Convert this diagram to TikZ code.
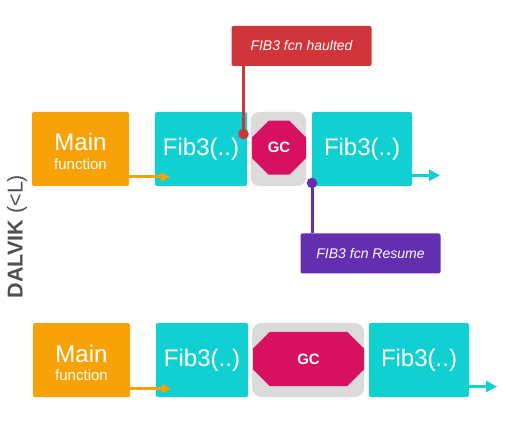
\documentclass[tikz,border=0pt]{standalone}
\usepackage{fontspec}
\setmainfont{Liberation Sans}
\usetikzlibrary{shapes.misc,arrows.meta}
\definecolor{cOrange}{HTML}{F7A307}
\definecolor{cTeal}{HTML}{10D0D2}
\definecolor{cGray}{HTML}{DBDBDB}
\definecolor{cPink}{HTML}{D81060}
\definecolor{cRed}{HTML}{CF353B}
\definecolor{cPurple}{HTML}{632EB0}
\definecolor{cText}{HTML}{505050}
\tikzset{
  x=1pt,y=-1pt,
  boxbase/.style={rectangle,rounded corners=2pt,inner sep=0pt,text=white,align=center},
  mainbox/.style={boxbase,fill=cOrange,minimum width=97pt,minimum height=74pt},
  fibshort/.style={boxbase,fill=cTeal,minimum width=92pt,minimum height=74pt},
  fiblong/.style={boxbase,fill=cTeal,minimum width=100pt,minimum height=74pt},
  fibtext/.style={text=white,inner sep=0pt,font=\fontsize{24}{28}\selectfont},
  maintext/.style={text=white,inner sep=0pt,font=\fontsize{24}{27}\selectfont},
  subtext/.style={text=white,inner sep=0pt,font=\fontsize{15}{17}\selectfont},
  gcback/.style={rectangle,rounded corners=9pt,fill=cGray,inner sep=0pt,minimum height=74pt},
  gcshape/.style={chamfered rectangle,chamfered rectangle xsep=14.5pt,chamfered rectangle ysep=14.5pt,fill=cPink,draw=none,inner sep=0pt,minimum height=54pt,text=white,font=\fontsize{15}{18}\selectfont\bfseries},
  note/.style={boxbase,minimum width=140pt,minimum height=40pt,font=\fontsize{14}{17}\selectfont\itshape},
  dot/.style={circle,inner sep=0pt,minimum size=10.5pt},
  tealflow/.style={cTeal,line width=3pt,-{Triangle[length=11pt,width=11pt]}},
  orangeflow/.style={cOrange,line width=3pt,-{Triangle[length=9pt,width=9pt]}},
}
\begin{document}
\begin{tikzpicture}
\useasboundingbox (0,0) rectangle (506,446);
% top row
\node[mainbox] (m1) at (80.5,149) {};
\node[maintext,anchor=base] (m1t) at (80.5,151) {Main};
\node[subtext,anchor=base] (m1s) at (80.5,169.5) {function};
\node[fibshort] (f1) at (201,149) {};
\node[fibtext,anchor=base] (f1t) at (201,155.5) {Fib3(..)};
\node[gcback,minimum width=55.5pt] (g1) at (278.25,149) {};
\node[gcshape,minimum width=54pt] (o1) at (279,147.7) {\raisebox{-1.3pt}{GC}};
\node[fiblong] (f2) at (362,149) {};
\node[fibtext,anchor=base] (f2t) at (362,155.5) {Fib3(..)};
\coordinate (e1s) at (f2.east |- 0,175.3);
\coordinate (e1) at (440,175.3);
\draw[tealflow] (e1s) -- (e1);
\coordinate (a1s) at (m1.east |- 0,177);
\coordinate (a1e) at (170,177);
\draw[orangeflow] (a1s) -- (a1e);
% notes
\node[note,fill=cRed] (n1) at (301.5,46) {FIB3 fcn haulted};
\node[dot,fill=cRed] (d1) at (243.5,134) {};
\draw[cRed,line width=3pt] (d1.center) -- (d1.center |- n1.south);
\node[note,fill=cPurple] (n2) at (370.5,253.5) {FIB3 fcn Resume};
\node[dot,fill=cPurple] (d2) at (312,183) {};
\draw[cPurple,line width=3pt] (d2.center) -- (d2.center |- n2.north);
% bottom row
\node[mainbox] (m2) at (81.5,360.2) {};
\node[maintext,anchor=base] (m2t) at (81.5,362.2) {Main};
\node[subtext,anchor=base] (m2s) at (81.5,380.7) {function};
\node[fibshort] (f3) at (202,360) {};
\node[fibtext,anchor=base] (f3t) at (202,366.5) {Fib3(..)};
\node[gcback,minimum width=112pt] (g2) at (308,360) {};
\node[gcshape,minimum width=111pt] (o2) at (308.5,359) {\raisebox{-1pt}{GC}};
\node[fiblong] (f4) at (419,360) {};
\node[fibtext,anchor=base] (f4t) at (419,366.5) {Fib3(..)};
\coordinate (e2s) at (f4.east |- 0,386.5);
\coordinate (e2) at (497,386.5);
\draw[tealflow] (e2s) -- (e2);
\coordinate (a2s) at (m2.east |- 0,388.5);
\coordinate (a2e) at (171,388.5);
\draw[orangeflow] (a2s) -- (a2e);
% side label
\node[rotate=90,text=cText,inner sep=0pt,font=\fontsize{21.5}{24}\selectfont] (lab) at (17,236.5) {\textbf{DALVIK} (<L)};
\end{tikzpicture}
\end{document}
